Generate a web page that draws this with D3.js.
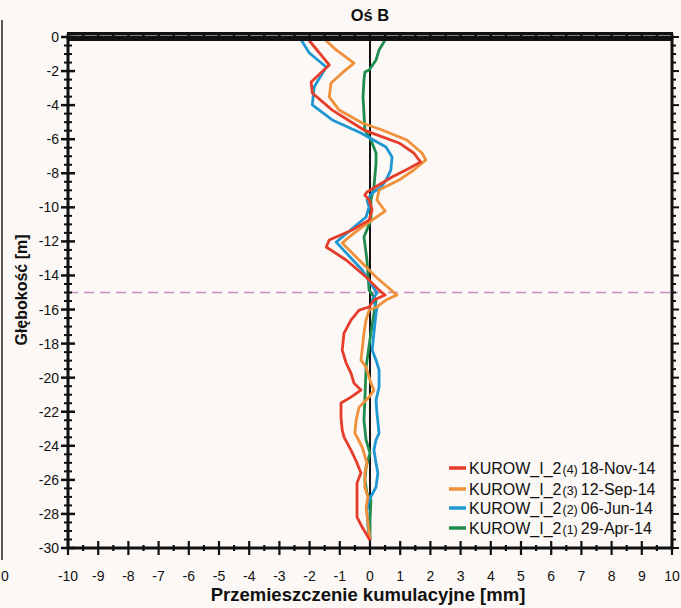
<!DOCTYPE html>
<html>
<head>
<meta charset="utf-8">
<script src="https://cdn.jsdelivr.net/npm/d3@7"></script>
<style>
  html, body { margin: 0; padding: 0; background: #fcf8f5; }
  svg { display: block; font-family: "Liberation Sans", Arial, sans-serif; }
</style>
</head>
<body>
<svg id="chart" width="681" height="608"></svg>
<script>
// Inclinometer profile KUROW_I_2, axis B: cumulative displacement vs depth
const xTickLabels = [-10, -9, -8, -7, -6, -5, -4, -3, -2, -1, 0, 1, 2, 3, 4, 5, 6, 7, 8, 9, 10];
const yTickLabels = [0, -2, -4, -6, -8, -10, -12, -14, -16, -18, -20, -22, -24, -26, -28, -30];
const referenceDepth = -15;

// 29-Apr-14 (1)
const greenDepth = [0, -0.76, -1.35, -1.94, -2.06, -2.52, -3.52, -5.46, -6.05, -6.81, -7.40, -8.81, -9.57, -10.75, -11.74, -13.09, -14.86, -15.44, -17.38, -19.38, -21.32, -22.49, -23.66, -24.43, -25.25, -26.01, -26.78, -27.19, -28.36, -29.54];
const greenValue = [0.56, 0.30, 0.20, -0.03, -0.17, -0.20, -0.23, -0.17, 0.03, 0.20, 0.20, 0.13, 0.03, 0.03, -0.20, -0.10, -0.03, 0.20, 0.03, -0.13, -0.17, -0.20, -0.13, 0.00, -0.13, -0.17, -0.10, 0.03, 0.00, 0.00];

// 06-Jun-14 (2)
const blueDepth = [0, -0.94, -1.76, -2.94, -3.99, -4.87, -5.64, -6.46, -7.05, -7.81, -8.40, -8.81, -9.16, -9.57, -9.98, -10.57, -12.04, -13.68, -15.03, -15.44, -15.85, -16.21, -17.38, -18.38, -18.97, -19.55, -20.55, -21.32, -22.08, -23.25, -23.66, -24.25, -25.01, -25.60, -26.42, -27.19, -27.78, -28.77, -29.54];
const blueValue = [-2.34, -2.01, -1.45, -1.85, -1.91, -1.25, -0.30, 0.53, 0.73, 0.69, 0.53, 0.36, 0.07, -0.10, -0.03, -0.13, -1.12, -0.26, 0.23, 0.07, 0.23, 0.20, 0.13, 0.07, 0.20, 0.30, 0.30, 0.20, 0.23, 0.30, 0.20, 0.13, 0.20, 0.26, 0.20, -0.03, -0.10, -0.07, 0.00];

// 12-Sep-14 (3)
const orangeDepth = [0, -0.76, -1.53, -2.11, -2.70, -3.52, -4.29, -5.05, -5.46, -6.05, -6.81, -7.22, -7.81, -8.40, -8.98, -9.57, -10.22, -10.75, -11.16, -11.74, -12.10, -13.09, -14.09, -15.15, -15.44, -15.85, -16.03, -16.62, -17.38, -18.38, -18.97, -19.38, -20.32, -20.73, -21.14, -21.73, -22.49, -23.25, -24.07, -25.01, -25.60, -26.42, -27.01, -27.60, -29.54];
const orangeValue = [-1.58, -1.12, -0.53, -0.92, -1.29, -1.35, -1.02, -0.26, 0.40, 1.22, 1.72, 1.85, 1.45, 0.96, 0.30, 0.23, 0.50, 0.07, -0.26, -0.69, -0.92, -0.36, 0.20, 0.89, 0.53, 0.23, -0.03, -0.13, -0.20, -0.26, -0.30, -0.13, 0.03, 0.13, -0.03, -0.36, -0.46, -0.50, -0.26, -0.10, -0.17, -0.17, -0.07, -0.13, 0.00];

// 18-Nov-14 (4)
const redDepth = [0, -1.64, -2.64, -3.29, -4.29, -5.46, -5.64, -6.22, -6.81, -7.34, -7.81, -8.22, -8.57, -9.10, -9.28, -9.57, -10.16, -10.75, -11.33, -11.92, -12.33, -13.09, -14.09, -14.86, -15.15, -15.44, -15.85, -16.03, -16.62, -17.38, -18.38, -19.14, -19.73, -20.32, -20.73, -21.14, -21.49, -22.31, -23.08, -23.49, -24.25, -25.01, -25.60, -26.19, -27.19, -28.19, -28.77, -29.54];
const redValue = [-2.11, -1.35, -1.95, -1.91, -1.25, -0.20, 0.07, 0.96, 1.45, 1.68, 1.19, 0.73, 0.40, -0.10, -0.17, -0.03, 0.07, -0.03, -0.59, -1.35, -1.45, -0.79, -0.13, 0.30, 0.50, 0.13, -0.03, -0.36, -0.63, -0.86, -0.92, -0.79, -0.63, -0.53, -0.30, -0.63, -0.96, -0.96, -0.92, -0.86, -0.63, -0.43, -0.30, -0.43, -0.43, -0.43, -0.26, 0.00];

const seriesNames = ["KUROW_I_2", "KUROW_I_2", "KUROW_I_2", "KUROW_I_2"];
const seriesIndex = ["(4)", "(3)", "(2)", "(1)"];
const seriesDates = ["18-Nov-14", "12-Sep-14", "06-Jun-14", "29-Apr-14"];
const seriesColors = ["#e63d2b", "#f0903a", "#1f97d3", "#1f8b4c"];

const series = [
  { depth: redDepth, value: redValue },
  { depth: orangeDepth, value: orangeValue },
  { depth: blueDepth, value: blueValue },
  { depth: greenDepth, value: greenValue }
];

const svg = d3.select("#chart");
const x = d3.scaleLinear().domain([-10, 10]).range([68, 672]);
const y = d3.scaleLinear().domain([-30, 0]).range([548, 37]);
const x0 = x(-10), x1 = x(10), yTop = y(0), yBot = y(-30);

// neighbouring panel edge on the far left
svg.append("line").attr("x1", 2).attr("x2", 2).attr("y1", 20).attr("y2", 560)
  .attr("stroke", "#222").attr("stroke-width", 1.5);
svg.append("text").attr("x", 1).attr("y", 581).attr("font-size", 14).attr("fill", "#111").text("0");

// title
svg.append("text").attr("x", 370).attr("y", 21).attr("text-anchor", "middle")
  .attr("font-size", 16.5).attr("font-weight", "bold").attr("fill", "#111").text("Oś B");

// reference depth
svg.append("line").attr("x1", x0).attr("x2", x1 + 6)
  .attr("y1", y(referenceDepth)).attr("y2", y(referenceDepth))
  .attr("stroke", "#c98bbf").attr("stroke-width", 1.6).attr("stroke-dasharray", "10,6");

// zero line
svg.append("line").attr("x1", x(0)).attr("x2", x(0)).attr("y1", yTop).attr("y2", yBot)
  .attr("stroke", "#111").attr("stroke-width", 2);

// profiles (oldest drawn first)
const line = d3.line().x(d => x(d[0])).y(d => y(d[1]));
const plot = svg.append("g");
series.slice().reverse().forEach((s, i) => {
  const k = series.length - 1 - i;
  plot.append("path")
    .datum(s.value.map((v, j) => [v, s.depth[j]]))
    .attr("d", line)
    .attr("fill", "none")
    .attr("stroke", seriesColors[k])
    .attr("stroke-width", 2.8)
    .attr("stroke-linejoin", "round");
});

// frame
svg.append("rect").attr("x", x0).attr("y", yTop).attr("width", x1 - x0).attr("height", yBot - yTop)
  .attr("fill", "none").attr("stroke", "#111").attr("stroke-width", 3);

const ticks = svg.append("g").attr("stroke", "#111");
const halfY = d3.range(0, 61).map(i => -i * 0.5);
const halfX = d3.range(0, 41).map(i => -10 + i * 0.5);

// left axis ticks crossing the frame
ticks.selectAll(".ly").data(halfY).join("line")
  .attr("x1", d => x0 - (d % 2 === 0 ? 7 : 4)).attr("x2", d => x0 + (d % 2 === 0 ? 7 : 4))
  .attr("y1", d => y(d)).attr("y2", d => y(d))
  .attr("stroke-width", d => d % 2 === 0 ? 2.5 : 2);

// right axis ticks pointing outward
ticks.selectAll(".ry").data(halfY).join("line")
  .attr("x1", x1).attr("x2", d => x1 + (d % 2 === 0 ? 7 : 4))
  .attr("y1", d => y(d)).attr("y2", d => y(d))
  .attr("stroke-width", 2);

// bottom axis ticks crossing the frame
ticks.selectAll(".bx").data(halfX).join("line")
  .attr("x1", d => x(d)).attr("x2", d => x(d))
  .attr("y1", d => yBot - (Number.isInteger(d) ? 7 : 3)).attr("y2", d => yBot + (Number.isInteger(d) ? 7 : 3))
  .attr("stroke-width", 2.2);

// top axis: double rail with tick rungs
ticks.append("line").attr("x1", x0 - 1).attr("x2", x1 + 1).attr("y1", yTop - 3.5).attr("y2", yTop - 3.5).attr("stroke-width", 3);
ticks.append("line").attr("x1", x0).attr("x2", x1).attr("y1", yTop + 2.5).attr("y2", yTop + 2.5).attr("stroke-width", 3);
ticks.selectAll(".tx").data(halfX).join("line")
  .attr("x1", d => x(d)).attr("x2", d => x(d))
  .attr("y1", yTop - 4).attr("y2", yTop + 3)
  .attr("stroke-width", 2.5);

// tick labels
svg.append("g").selectAll("text").data(xTickLabels).join("text")
  .attr("x", d => x(d)).attr("y", 581).attr("text-anchor", "middle")
  .attr("font-size", 14).attr("fill", "#111").text(d => d);
svg.append("g").selectAll("text").data(yTickLabels).join("text")
  .attr("x", x0 - 9).attr("y", d => y(d) + 5).attr("text-anchor", "end")
  .attr("font-size", 14).attr("fill", "#111").text(d => d);

// axis titles
svg.append("text").attr("x", 368).attr("y", 601).attr("text-anchor", "middle")
  .attr("font-size", 18.5).attr("font-weight", "bold").attr("fill", "#111")
  .text("Przemieszczenie kumulacyjne [mm]");
svg.append("text").attr("transform", "translate(27,290) rotate(-90)").attr("text-anchor", "middle")
  .attr("font-size", 16).attr("font-weight", "bold").attr("fill", "#111")
  .text("Głębokość [m]");

// legend
const legendY = [468, 489, 508, 528];
const legend = svg.append("g");
seriesNames.forEach((name, i) => {
  const ly = legendY[i];
  legend.append("line").attr("x1", 449).attr("x2", 466).attr("y1", ly).attr("y2", ly)
    .attr("stroke", seriesColors[i]).attr("stroke-width", 3.5);
  const t = legend.append("text").attr("x", 469).attr("y", ly + 6).attr("fill", "#111");
  t.append("tspan").attr("font-size", 16).text(name);
  t.append("tspan").attr("font-size", 12.5).attr("dx", 1).text(seriesIndex[i]);
  t.append("tspan").attr("font-size", 16).attr("dx", 3).text(seriesDates[i]);
});
</script>
</body>
</html>
